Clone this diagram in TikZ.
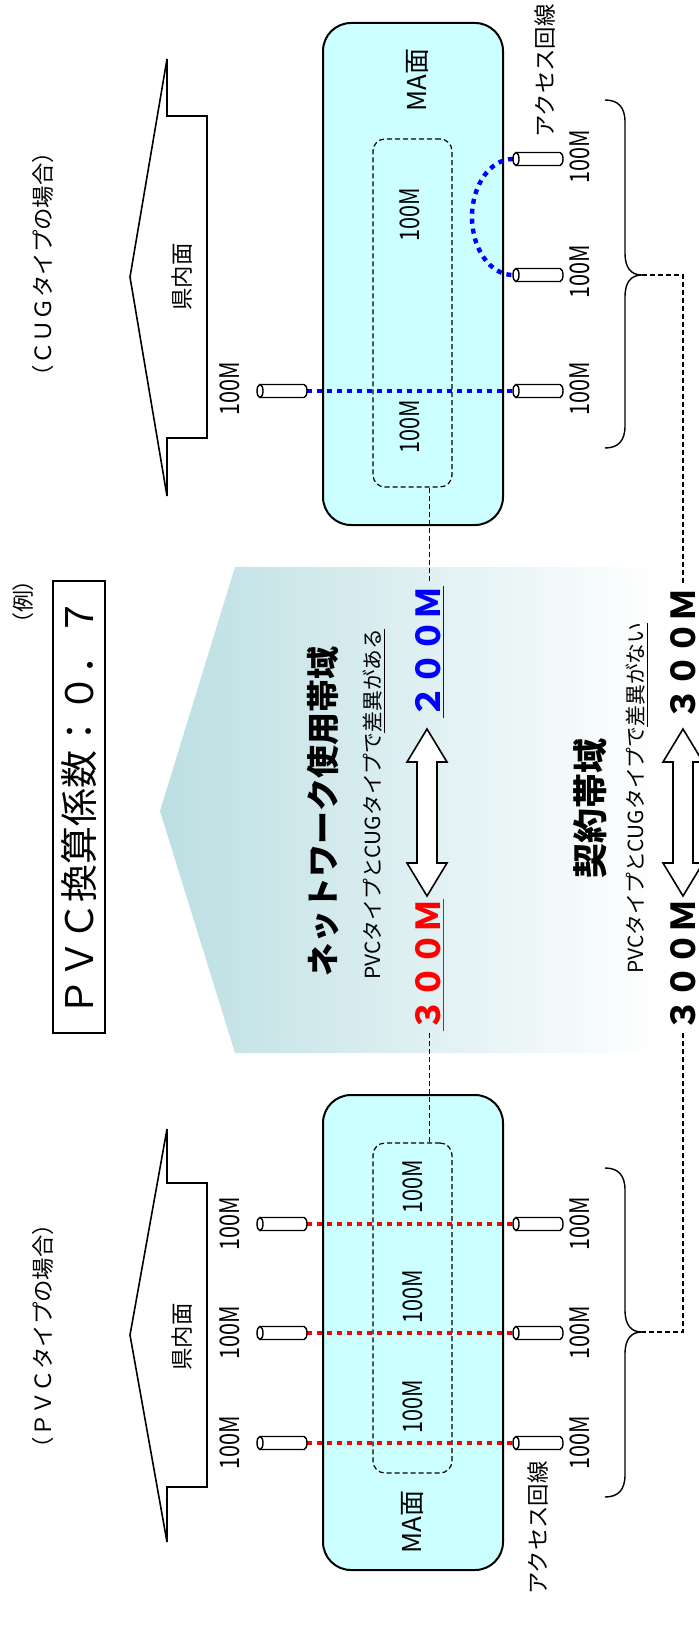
\documentclass[tikz,border=0pt]{standalone}
\usepackage{fontspec}
\setmainfont{Noto Sans CJK JP}
\newfontfamily\narrowfont[FakeStretch=0.8]{Noto Sans CJK JP}
\newfontfamily\paltfont[RawFeature=+palt]{Noto Sans CJK JP}
\definecolor{macyan}{RGB}{204,255,255}
\definecolor{gradteal}{RGB}{188,223,227}
\tikzset{
  cylpic/.pic={
    \draw[line width=0.7pt, fill=white] (-22,-6.5) -- (22,-6.5) arc[start angle=-90,end angle=90,x radius=3,y radius=6.5] -- (-22,6.5) -- cycle;
    \draw[line width=0.7pt, fill=white] (-22,0) ellipse[x radius=3, y radius=6.5];
    \coordinate (-l) at (-25,0);
    \coordinate (-r) at (25,0);
  },
  darrow/.pic={
    \draw[line width=0.8pt, fill=white] (0,-83.5) -- (20,-50.5) -- (10,-50.5) -- (10,50.5) -- (20,50.5) -- (0,83.5) -- (-20,50.5) -- (-10,50.5) -- (-10,-50.5) -- (-20,-50.5) -- cycle;
  }
}
\begin{document}
\begin{tikzpicture}[x=0.5pt,y=-0.5pt,
  lbl/.style={rotate=90, inner sep=0.5pt, font=\fontsize{11.2}{11.2}\selectfont},
  hundred/.style={rotate=90, inner sep=0.5pt, font=\narrowfont\fontsize{13.5}{13.5}\selectfont},
  mabox/.style={draw, line width=1pt, fill=macyan, rounded corners=14pt},
  innerbox/.style={draw, line width=0.6pt, dash pattern=on 2.5pt off 1.5pt, rounded corners=6pt},
  conn/.style={line width=0.6pt, dash pattern=on 2.5pt off 1.5pt},
  penta/.style={draw, line width=0.8pt},
  brace/.style={draw, line width=0.7pt},
  bdot/.style={draw=blue, line width=2.2pt, dash pattern=on 2.5pt off 2.5pt},
  rdot/.style={draw=red, line width=2.2pt, dash pattern=on 2.5pt off 2.5pt},
  bigbw/.style={rotate=90, inner sep=1pt, font=\bfseries\fontsize{16.5}{16.5}\selectfont},
  smalltxt/.style={rotate=90, anchor=base, inner sep=0.5pt, font=\fontsize{10.4}{10.4}\selectfont}
]
\clip (0,0) rectangle (699,1632);

% ---------- gradient band ----------
\shade[left color=gradteal, right color=white] (160,811) -- (235,567) -- (660,567) -- (660,1053) -- (235,1053) -- cycle;

% ---------- top group (CUG) ----------
\node[lbl] (cugT) at (43,264) {（ＣＵＧタイプの場合）};
\draw[penta] (167,59) -- (130,277) -- (167,496) -- (167,438) -- (207,438) -- (207,116) -- (167,116) -- cycle;
\node[lbl] (kenT) at (182,277) {県内面};
\node[mabox, minimum width=90pt, minimum height=251pt] (maT) at (413,274) {};
\node[innerbox, minimum width=39.5pt, minimum height=174pt] (inT) at (412.5,313) {};
\node[lbl, font=\fontsize{13}{13}\selectfont] (maTl) at (417,80) {MA面};
\node[hundred] (iT1) at (410,215) {100M};
\node[hundred] (iT2) at (410,427) {100M};
\node[lbl] (accT) at (545,71) {アクセス回線};

\coordinate (dTa) at (307,391);
\coordinate (dTb) at (513,391);
\draw[bdot] (dTa) -- (dTb);
\coordinate (dTc) at (513,159);
\draw[bdot] (dTc) arc[start angle=-90, end angle=-270, x radius=41, y radius=58];

\pic (cTL) at (282,391) {cylpic};
\pic (cTR1) at (538,159) {cylpic};
\pic (cTR2) at (538,275) {cylpic};
\pic (cTR3) at (538,391) {cylpic};
\node[hundred] (hTL) at (230,389) {100M};
\node[hundred] (hTR1) at (580,157) {100M};
\node[hundred] (hTR2) at (580,272) {100M};
\node[hundred] (hTR3) at (580,389) {100M};

\draw[brace] (605,100) .. controls (618,100) and (625,107) .. (625,122) -- (625,253) .. controls (625,268) and (631,275) .. (642,275) coordinate (bT) .. controls (631,275) and (625,282) .. (625,297) -- (625,426) .. controls (625,441) and (618,448) .. (605,448);

% ---------- middle ----------
\node[rotate=90, inner sep=0.5pt, font=\paltfont\fontsize{11}{11}\selectfont] (rei) at (23,602) {（例）};
\node[draw, line width=0.8pt, rotate=90, minimum width=226pt, minimum height=26pt, inner sep=0pt, font=\fontsize{19}{19}\selectfont] (title) at (79,807) {ＰＶＣ換算係数：０．７};
\node[bigbw] (nw) at (323,811) {ネットワーク使用帯域};
\node[smalltxt] (diff1) at (380,804) {PVCタイプとCUGタイプで\underline{差異がある}};
\node[bigbw, anchor=base, text=blue] (t200) at (440,652) {\underline{２００Ｍ}};
\node[bigbw, anchor=base, text=red] (t300r) at (440,965) {\underline{３００Ｍ}};
\pic at (427,812.5) {darrow};

\node[rotate=90, inner sep=1pt, font=\bfseries\fontsize{17.5}{17.5}\selectfont] (kyk) at (590,808) {契約帯域};
\node[smalltxt] (diff2) at (643,798) {PVCタイプとCUGタイプで\underline{差異がない}};
\node[bigbw] (k300T) at (683,654) {３００Ｍ};
\node[bigbw] (k300B) at (683,965) {３００Ｍ};
\pic at (683,812.5) {darrow};

% ---------- bottom group (PVC) ----------
\node[lbl] (pvcB) at (43,1336) {（ＰＶＣタイプの場合）};
\draw[penta] (167,1129) -- (130,1335) -- (167,1542) -- (167,1487) -- (207,1487) -- (207,1183) -- (167,1183) -- cycle;
\node[lbl] (kenB) at (182,1337) {県内面};
\node[mabox, minimum width=90pt, minimum height=237.5pt] (maB) at (413,1332.5) {};
\node[innerbox, minimum width=39.5pt, minimum height=165pt] (inB) at (412.5,1308) {};
\node[lbl, font=\fontsize{13}{13}\selectfont] (maBl) at (412,1522) {MA面};
\node[hundred] (iB1) at (413,1187) {100M};
\node[hundred] (iB2) at (413,1297) {100M};
\node[hundred] (iB3) at (413,1407) {100M};
\node[lbl] (accB) at (538,1528) {アクセス回線};

\foreach \i/\yy in {1/1224,2/1333,3/1443}{
  \draw[rdot] (307,\yy) -- (513,\yy);
}
\foreach \i/\yy in {1/1224,2/1333,3/1443}{
  \pic (cBL\i) at (282,\yy) {cylpic};
  \pic (cBR\i) at (538,\yy) {cylpic};
  \node[hundred] (hBL\i) at (230,\yy) {100M};
  \node[hundred] (hBR\i) at (580,\yy) {100M};
}

\draw[brace] (605,1168) .. controls (618,1168) and (625,1175) .. (625,1190) -- (625,1310) .. controls (625,1325) and (631,1332) .. (642,1332) coordinate (bB) .. controls (631,1332) and (625,1339) .. (625,1354) -- (625,1475) .. controls (625,1490) and (618,1497) .. (605,1497);

% ---------- connectors ----------
\draw[conn] (t200.east |- inT.south) -- (t200.east);
\draw[conn] (t300r.west) -- (t300r.west |- inB.north);
\draw[conn] (bT) -- (bT -| k300T.east) -- (k300T.east);
\draw[conn] (k300B.west) -- (k300B.west |- bB) -- (bB);
\end{tikzpicture}
\end{document}
